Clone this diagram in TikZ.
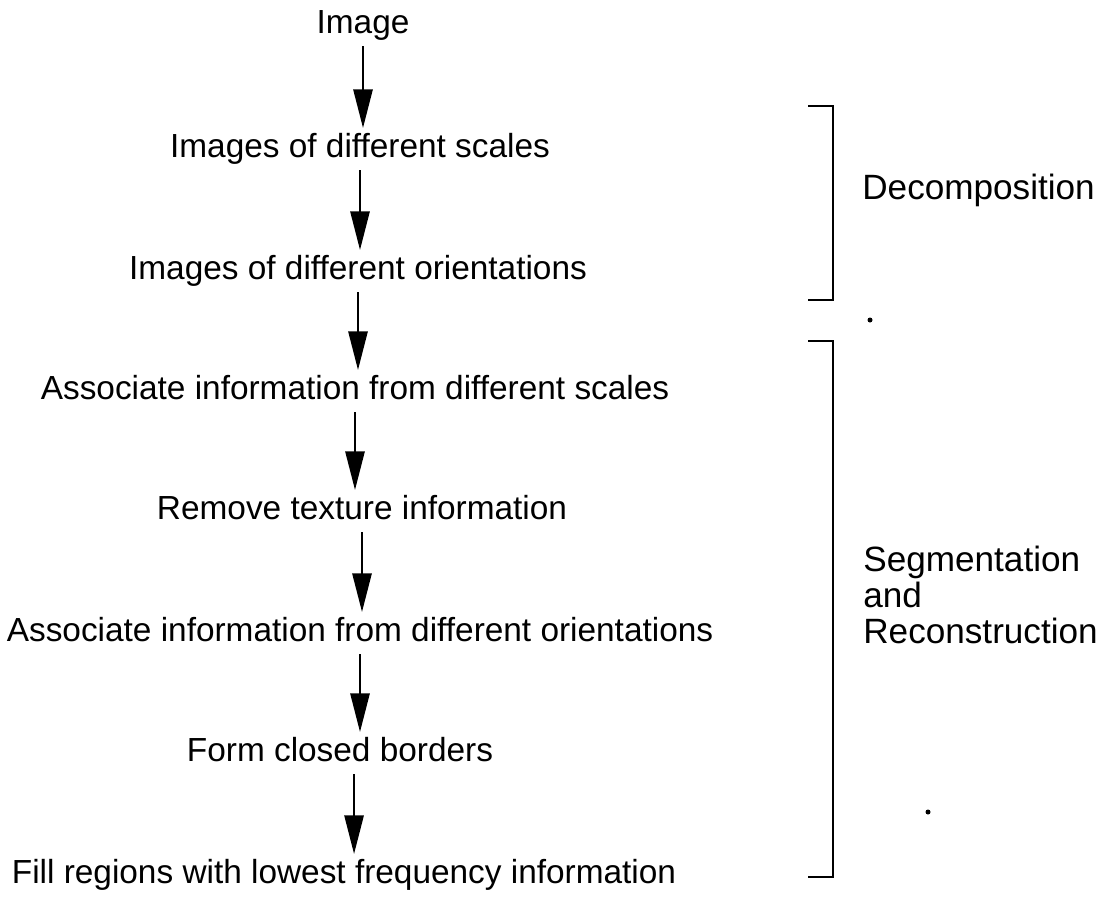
\documentclass[tikz,border=0pt]{standalone}
\usepackage{fontspec}
\setmainfont{Liberation Sans}
\usetikzlibrary{arrows.meta}

\begin{document}
\begin{tikzpicture}[x=0.02cm, y=-0.02cm,
  stage/.style={inner sep=0pt, outer sep=3pt, font=\fontsize{19}{22}\selectfont, text height=14pt, text depth=4pt},
  flow/.style={line width=1.1pt, -{Triangle[length=22pt,width=11pt]}},
  brack/.style={line width=1.1pt},
  phase/.style={anchor=west, align=left, inner sep=0pt, font=\fontsize{20}{20.5}\selectfont}]
\useasboundingbox (0,0) rectangle (1115,907);
\node[stage] (img) at (363,25) {Image};
\node[stage] (scales) at (360,149) {Images of different scales};
\node[stage] (orient) at (358,271) {Images of different orientations};
\node[stage] (assocs) at (355,391) {Associate information from different scales};
\node[stage] (texture) at (362,511) {Remove texture information};
\node[stage] (assoco) at (360,633) {Associate information from different orientations};
\node[stage] (borders) at (340,753) {Form closed borders};
\node[stage] (fill) at (344,875) {Fill regions with lowest frequency information};
\draw[flow] (img.south) -- (img.south |- scales.north);
\draw[flow] (scales.south) -- (scales.south |- orient.north);
\draw[flow] (orient.south) -- (orient.south |- assocs.north);
\draw[flow] (assocs.south) -- (assocs.south |- texture.north);
\draw[flow] (texture.south) -- (texture.south |- assoco.north);
\draw[flow] (assoco.south) -- (assoco.south |- borders.north);
\draw[flow] ([xshift=8pt]borders.south) -- ([xshift=8pt]borders.south |- fill.north);
\draw[brack] (808,106) -- (833,106) -- (833,300) -- (808,300);
\draw[brack] (808,341) -- (833,341) -- (833,877) -- (808,877);
\node[phase] (decomp) at (862,190) {Decomposition};
\node[phase] (segrec) at (863,595) {Segmentation\\and\\Reconstruction};
\fill (870,320) circle (2.5);
\fill (928,812) circle (2.5);
\end{tikzpicture}
\end{document}
